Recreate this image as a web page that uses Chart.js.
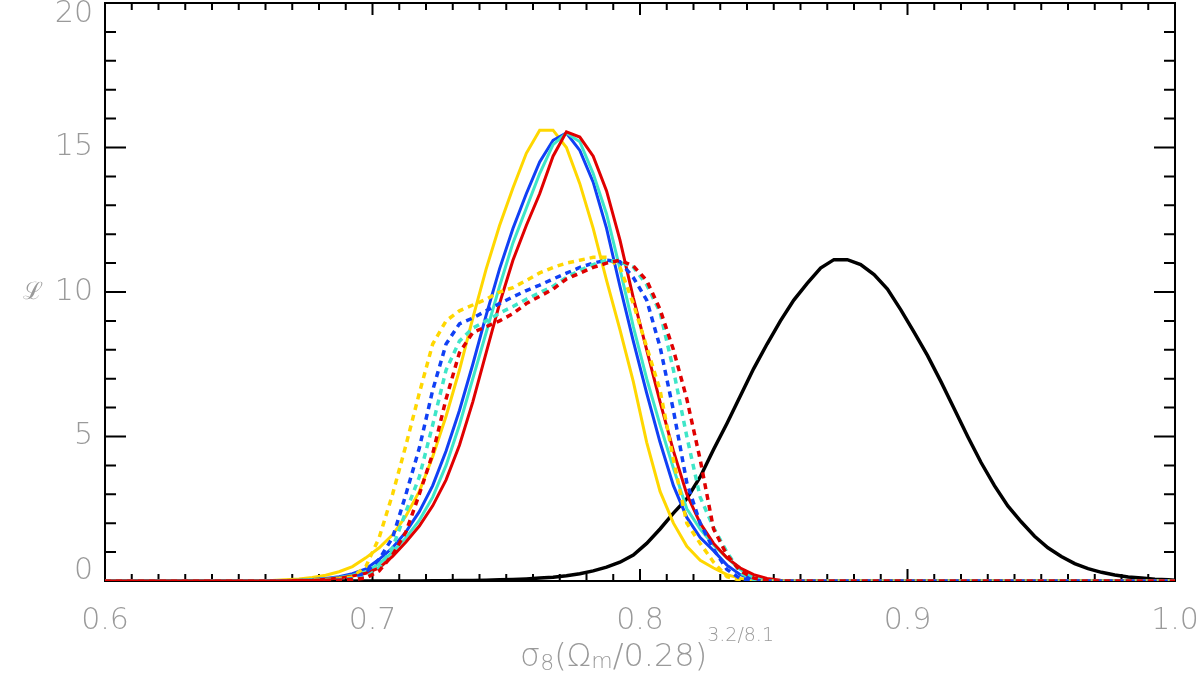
<!DOCTYPE html>
<html>
<head>
<meta charset="utf-8">
<script src="https://cdn.jsdelivr.net/npm/chart.js@4"></script>
<style>
  body { margin: 0; background: #fff; }
  #wrap { width: 1200px; height: 681px; position: relative; }
</style>
</head>
<body>
<div id="wrap"><canvas id="chart"></canvas></div>
<script>
// sampled sigma8 grid (0.6, 0.6525 ... 0.9975 step 0.005, 1.0)
const xs = [0.6,
  0.6525, 0.6575, 0.6625, 0.6675, 0.6725, 0.6775, 0.6825, 0.6875, 0.6925, 0.6975,
  0.7025, 0.7075, 0.7125, 0.7175, 0.7225, 0.7275, 0.7325, 0.7375, 0.7425, 0.7475,
  0.7525, 0.7575, 0.7625, 0.7675, 0.7725, 0.7775, 0.7825, 0.7875, 0.7925, 0.7975,
  0.8025, 0.8075, 0.8125, 0.8175, 0.8225, 0.8275, 0.8325, 0.8375, 0.8425, 0.8475,
  0.8525, 0.8575, 0.8625, 0.8675, 0.8725, 0.8775, 0.8825, 0.8875, 0.8925, 0.8975,
  0.9025, 0.9075, 0.9125, 0.9175, 0.9225, 0.9275, 0.9325, 0.9375, 0.9425, 0.9475,
  0.9525, 0.9575, 0.9625, 0.9675, 0.9725, 0.9775, 0.9825, 0.9875, 0.9925, 0.9975,
  1.0];

const blackL = [0,
  0, 0, 0, 0, 0, 0, 0, 0, 0, 0,
  0, 0, 0, 0, 0.01, 0.01, 0.02, 0.02, 0.03, 0.04,
  0.05, 0.07, 0.1, 0.13, 0.18, 0.25, 0.35, 0.48, 0.65, 0.9,
  1.3, 1.8, 2.35, 2.85, 3.6, 4.55, 5.45, 6.4, 7.35, 8.2,
  9.0, 9.72, 10.3, 10.83, 11.12, 11.12, 10.95, 10.6, 10.1, 9.38,
  8.6, 7.8, 6.9, 5.95, 5.0, 4.1, 3.3, 2.6, 2.05, 1.55,
  1.15, 0.85, 0.6, 0.43, 0.3, 0.21, 0.14, 0.1, 0.06, 0.04,
  0.03];

const yellowSolid = [0,
  0, 0.01, 0.02, 0.04, 0.07, 0.12, 0.2, 0.32, 0.5, 0.8,
  1.15, 1.6, 2.25, 3.1, 4.3, 5.7, 7.3, 9.1, 10.8, 12.3,
  13.6, 14.8, 15.6, 15.6, 15.0, 13.75, 12.2, 10.4, 8.7, 6.9,
  4.8, 3.1, 2.0, 1.2, 0.72, 0.45, 0.22, 0.09, 0.03, 0,
  0, 0, 0, 0, 0, 0, 0, 0, 0, 0,
  0, 0, 0, 0, 0, 0, 0, 0, 0, 0,
  0, 0, 0, 0, 0, 0, 0, 0, 0, 0,
  0];

const blueSolid = [0,
  0, 0, 0.01, 0.02, 0.03, 0.05, 0.09, 0.15, 0.25, 0.42,
  0.75, 1.15, 1.7, 2.4, 3.3, 4.5, 5.9, 7.5, 9.2, 10.8,
  12.2, 13.4, 14.5, 15.25, 15.5, 14.9, 13.8, 12.2, 10.2, 8.3,
  6.5, 4.8, 3.3, 2.2, 1.5, 1.05, 0.55, 0.22, 0.07, 0.02,
  0, 0, 0, 0, 0, 0, 0, 0, 0, 0,
  0, 0, 0, 0, 0, 0, 0, 0, 0, 0,
  0, 0, 0, 0, 0, 0, 0, 0, 0, 0,
  0];

const cyanSolid = [0,
  0, 0, 0, 0.01, 0.02, 0.04, 0.07, 0.12, 0.2, 0.32,
  0.6, 1.0, 1.5, 2.1, 2.9, 4.0, 5.4, 7.0, 8.6, 10.2,
  11.7, 12.9, 14.1, 15.1, 15.5, 15.2, 14.1, 12.7, 10.8, 8.8,
  7.0, 5.4, 3.9, 2.5, 1.8, 1.25, 0.8, 0.4, 0.12, 0.03,
  0, 0, 0, 0, 0, 0, 0, 0, 0, 0,
  0, 0, 0, 0, 0, 0, 0, 0, 0, 0,
  0, 0, 0, 0, 0, 0, 0, 0, 0, 0,
  0];

const redSolid = [0,
  0, 0, 0, 0.01, 0.02, 0.03, 0.06, 0.1, 0.17, 0.27,
  0.45, 0.85, 1.35, 1.9, 2.6, 3.5, 4.7, 6.2, 7.9, 9.6,
  11.1, 12.3, 13.4, 14.7, 15.54, 15.36, 14.7, 13.5, 11.8, 9.8,
  8.0, 6.2, 4.5, 3.0, 2.0, 1.3, 0.8, 0.45, 0.22, 0.09,
  0.03, 0, 0, 0, 0, 0, 0, 0, 0, 0,
  0, 0, 0, 0, 0, 0, 0, 0, 0, 0,
  0, 0, 0, 0, 0, 0, 0, 0, 0, 0,
  0];

const yellowDash = [0,
  0, 0, 0, 0.01, 0.01, 0.02, 0.04, 0.08, 0.14, 0.5,
  1.5, 3.0, 4.7, 6.5, 8.2, 9.0, 9.35, 9.55, 9.75, 10.0,
  10.15, 10.4, 10.66, 10.85, 11.0, 11.1, 11.2, 11.2, 10.86, 9.6,
  8.1, 6.6, 4.2, 2.0, 1.3, 0.65, 0.15, 0.03, 0, 0,
  0, 0, 0, 0, 0, 0, 0, 0, 0, 0,
  0, 0, 0, 0, 0, 0, 0, 0, 0, 0,
  0, 0, 0, 0, 0, 0, 0, 0, 0, 0,
  0];

const blueDash = [0,
  0, 0, 0, 0, 0.01, 0.01, 0.02, 0.04, 0.08, 0.3,
  0.75, 1.5, 3.0, 4.6, 6.6, 8.2, 8.9, 9.1, 9.35, 9.6,
  9.83, 10.05, 10.24, 10.45, 10.65, 10.85, 11.0, 11.1, 11.05, 10.5,
  9.72, 8.1, 5.9, 3.4, 2.0, 1.1, 0.4, 0.08, 0.01, 0,
  0, 0, 0, 0, 0, 0, 0, 0, 0, 0,
  0, 0, 0, 0, 0, 0, 0, 0, 0, 0,
  0, 0, 0, 0, 0, 0, 0, 0, 0, 0,
  0];

const cyanDash = [0,
  0, 0, 0, 0, 0.01, 0.01, 0.02, 0.03, 0.06, 0.13,
  0.45, 1.15, 2.4, 3.6, 5.4, 7.3, 8.3, 8.75, 9.0, 9.27,
  9.5, 9.75, 9.98, 10.2, 10.5, 10.75, 10.95, 11.1, 11.05, 10.86,
  10.25, 9.3, 7.3, 5.0, 2.9, 1.85, 1.0, 0.28, 0.05, 0,
  0, 0, 0, 0, 0, 0, 0, 0, 0, 0,
  0, 0, 0, 0, 0, 0, 0, 0, 0, 0,
  0, 0, 0, 0, 0, 0, 0, 0, 0, 0,
  0];

const redDash = [0,
  0, 0, 0, 0, 0.01, 0.01, 0.02, 0.03, 0.05, 0.1,
  0.35, 0.9, 1.7, 3.0, 4.4, 6.3, 7.9, 8.6, 8.8, 9.0,
  9.25, 9.6, 9.85, 10.1, 10.45, 10.65, 10.85, 11.0, 11.1, 10.9,
  10.4, 9.4, 8.0, 6.3, 4.2, 1.8, 0.9, 0.35, 0.1, 0.02,
  0, 0, 0, 0, 0, 0, 0, 0, 0, 0,
  0, 0, 0, 0, 0, 0, 0, 0, 0, 0,
  0, 0, 0, 0, 0, 0, 0, 0, 0, 0,
  0];

const xTickLabels = ['0.6', '0.7', '0.8', '0.9', '1.0'];
const yTickLabels = ['0', '5', '10', '15', '20'];

const YELLOW = '#ffd700';
const BLUE = '#1040f5';
const CYAN = '#3ee6c8';
const RED = '#e00000';
const LABEL_GREY = '#9a9a9a';
const LABEL_FONT = '200 30px "DejaVu Sans"';

function toPoints(values) {
  return xs.map((x, i) => ({ x: x, y: values[i] }));
}

function line(values, color, dashed, width) {
  return {
    data: toPoints(values),
    borderColor: color,
    borderWidth: width || 3,
    borderDash: dashed ? [6, 5] : [],
    pointRadius: 0,
    tension: 0,
    fill: false,
  };
}

// frame with inward ticks on all four sides, like the IDL plot
const framePlugin = {
  id: 'frame',
  beforeDatasetsDraw(chart) {
    const { ctx, chartArea: a, scales: { x, y } } = chart;
    ctx.save();
    ctx.strokeStyle = '#000';
    ctx.lineWidth = 2;
    ctx.strokeRect(a.left, a.top, a.right - a.left, a.bottom - a.top);
    ctx.beginPath();
    for (let i = 0; i <= 40; i++) {
      const px = x.getPixelForValue(0.6 + i * 0.01);
      const len = i % 10 === 0 ? 12 : 7;
      ctx.moveTo(px, a.bottom); ctx.lineTo(px, a.bottom - len);
      ctx.moveTo(px, a.top); ctx.lineTo(px, a.top + len);
    }
    for (let j = 0; j <= 20; j++) {
      const py = y.getPixelForValue(j);
      const len = j % 5 === 0 ? 21 : 11;
      ctx.moveTo(a.left, py); ctx.lineTo(a.left + len, py);
      ctx.moveTo(a.right, py); ctx.lineTo(a.right - len, py);
    }
    ctx.stroke();
    ctx.restore();
  },
  afterDraw(chart) {
    const { ctx, chartArea: a, scales: { x, y } } = chart;
    ctx.save();
    ctx.fillStyle = LABEL_GREY;
    ctx.font = LABEL_FONT;
    ctx.textBaseline = 'middle';
    ctx.textAlign = 'center';
    xTickLabels.forEach((t) => {
      ctx.fillText(t, x.getPixelForValue(parseFloat(t)), a.bottom + 40);
    });
    ctx.textAlign = 'right';
    yTickLabels.forEach((t) => {
      let py = y.getPixelForValue(parseFloat(t));
      if (t === '20') py += 11;
      if (t === '0') py -= 10;
      ctx.fillText(t, a.left - 12, py);
    });

    // y title
    ctx.textAlign = 'center';
    ctx.font = '200 24px "DejaVu Sans"';
    ctx.fillText('\u2112', 33, 293);

    // x title: sigma_8 (Omega_m / 0.28)^(3.2/8.1)
    const parts = [
      { t: '\u03c3', f: '200 32px "DejaVu Sans"', dy: 0 },
      { t: '8', f: '200 22px "DejaVu Sans"', dy: 4 },
      { t: '(\u03a9', f: '200 32px "DejaVu Sans"', dy: 0 },
      { t: 'm', f: '200 22px "DejaVu Sans"', dy: 2 },
      { t: '/0.28)', f: '200 32px "DejaVu Sans"', dy: 0 },
      { t: '3.2/8.1', f: '200 19px "DejaVu Sans"', dy: -25 },
    ];
    let total = 0;
    parts.forEach((p) => { ctx.font = p.f; p.w = ctx.measureText(p.t).width; total += p.w; });
    let cx = 647 - total / 2;
    ctx.textAlign = 'left';
    ctx.textBaseline = 'alphabetic';
    parts.forEach((p) => {
      ctx.font = p.f;
      ctx.fillText(p.t, cx, 666 + p.dy);
      cx += p.w;
    });
    ctx.restore();
  },
};

// Chart.js paints the first dataset on top, so the list runs from top to bottom
const config = {
  type: 'line',
  data: {
    datasets: [
      line(redDash, RED, true, 3.5),
      line(cyanDash, CYAN, true, 3.5),
      line(blueDash, BLUE, true, 3.5),
      line(yellowDash, YELLOW, true, 3.5),
      line(redSolid, RED, false),
      line(cyanSolid, CYAN, false),
      line(blueSolid, BLUE, false),
      line(yellowSolid, YELLOW, false),
      line(blackL, '#000', false, 3.5),
    ],
  },
  options: {
    responsive: true,
    maintainAspectRatio: false,
    animation: false,
    layout: { padding: { left: 105, right: 25, top: 3, bottom: 100 } },
    plugins: { legend: { display: false }, tooltip: { enabled: false } },
    scales: {
      x: { type: 'linear', min: 0.6, max: 1.0, display: false },
      y: { type: 'linear', min: 0, max: 20, display: false },
    },
  },
  plugins: [framePlugin],
};

new Chart(document.getElementById('chart'), config);
</script>
</body>
</html>
